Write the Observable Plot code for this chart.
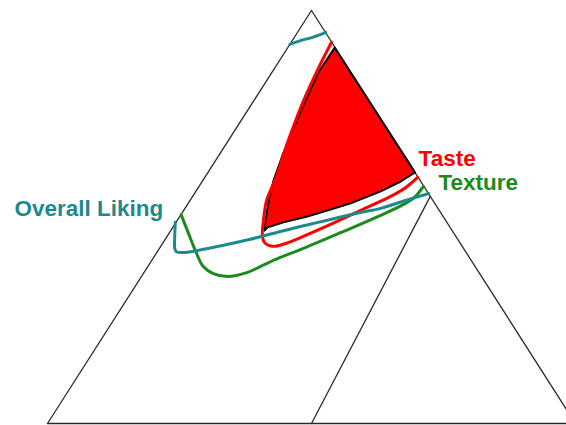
<!DOCTYPE html>
<html>
<head>
<meta charset="utf-8">
<script src="https://cdn.jsdelivr.net/npm/d3@7"></script>
<script src="https://cdn.jsdelivr.net/npm/@observablehq/plot@0.6"></script>
<style>
  html, body { margin: 0; padding: 0; background: #fff; }
  #chart svg { display: block; }
</style>
</head>
<body>
<div id="chart"></div>
<script>
// Mixture overlay plot. Positions are in triangle units: u runs 0..100 along
// the base, v runs 0..100 from the base to the apex.

// Simplex outline and the constraint line from the base midpoint
const simplexEdges = [[0, 0], [50, 100], [100, 0], [0, 0]];
const constraintLine = [[50, 0], [72.5, 55]];

// Overall Liking contour (two pieces: near the apex and the long lower arc)
const likingTop = [[45.9, 91.8], [47.9, 92.7], [50.2, 93.5], [52.7, 94.7]];
const likingMain = [
  [24.2, 48.7], [24.1, 45.3], [24.1, 42.4], [24.4, 41.6], [25.6, 41.4],
  [28.4, 41.9], [38.4, 44.6], [44.1, 46.5], [47.9, 47.7], [53.6, 49.4],
  [59.3, 51.1], [63.1, 52.1], [67.8, 54.0], [72.2, 55.7]
];

// Texture contour
const texture = [
  [25.3, 50.6], [26.5, 46.7], [28.0, 41.9], [29.5, 38.0], [31.4, 36.3],
  [34.1, 35.6], [37.9, 36.6], [40.3, 38.0], [44.1, 40.2], [47.9, 42.1],
  [55.5, 46.2], [63.1, 50.4], [67.8, 53.3], [69.7, 55.0], [71.2, 57.4]
];

// Taste contour
const taste = [
  [53.8, 92.3], [51.3, 86.0], [48.5, 78.2], [45.6, 68.5], [43.2, 59.3],
  [41.5, 54.0], [40.9, 49.2], [40.7, 45.5], [41.1, 43.8], [42.6, 42.9],
  [45.1, 43.6], [47.9, 45.0], [53.6, 48.2], [59.3, 51.6], [65.0, 55.0],
  [67.8, 57.1], [70.1, 59.6]
];

// Region where all three responses meet their targets
const sweetSpot = [
  [54.4, 91.0], [69.6, 60.8], [66.9, 58.6], [63.1, 56.2], [57.4, 53.3],
  [53.6, 51.8], [49.2, 50.1], [44.7, 48.7], [41.7, 47.5], [41.1, 46.7],
  [41.3, 49.2], [41.9, 54.0], [42.8, 58.8], [44.5, 64.9], [46.4, 70.9],
  [48.7, 77.7], [51.3, 85.0]
];

const responseNames = ["Overall Liking", "Texture", "Taste"];

const TEAL = "#1b8a8c";
const GREEN = "#1c8a1c";
const RED = "#ff0000";
const last = a => [a[a.length - 1]];
const first = a => [a[0]];

const labelFont = {
  fontFamily: "'Liberation Sans', Arial, sans-serif",
  fontSize: 22.5,
  fontWeight: "bold",
  lineAnchor: "bottom"
};

const chart = Plot.plot({
  width: 566,
  height: 425,
  margin: 0,
  x: {domain: [-8.90, 98.30], axis: null},
  y: {domain: [-0.48, 102.42], axis: null},
  marks: [
    Plot.line(simplexEdges, {stroke: "#2a2a2a", strokeWidth: 1.3}),
    Plot.line(constraintLine, {stroke: "#2a2a2a", strokeWidth: 1.3}),
    Plot.line(sweetSpot, {curve: "linear-closed", fill: RED, stroke: "#000", strokeWidth: 2}),
    Plot.line(taste, {curve: "catmull-rom", stroke: RED, strokeWidth: 3}),
    Plot.line(texture, {curve: "catmull-rom", stroke: GREEN, strokeWidth: 3}),
    Plot.line(likingMain, {curve: "catmull-rom", stroke: TEAL, strokeWidth: 3}),
    Plot.line(likingTop, {curve: "catmull-rom", stroke: TEAL, strokeWidth: 3}),
    Plot.text(first(likingMain), {...labelFont, text: () => responseNames[0], fill: TEAL, textAnchor: "end", dx: -12, dy: -6}),
    Plot.text(last(texture), {...labelFont, text: () => responseNames[1], fill: GREEN, textAnchor: "start", dx: 15, dy: 4}),
    Plot.text(last(taste), {...labelFont, text: () => responseNames[2], fill: RED, textAnchor: "start", dx: 1, dy: -11})
  ]
});

document.getElementById("chart").append(chart);
</script>
</body>
</html>
